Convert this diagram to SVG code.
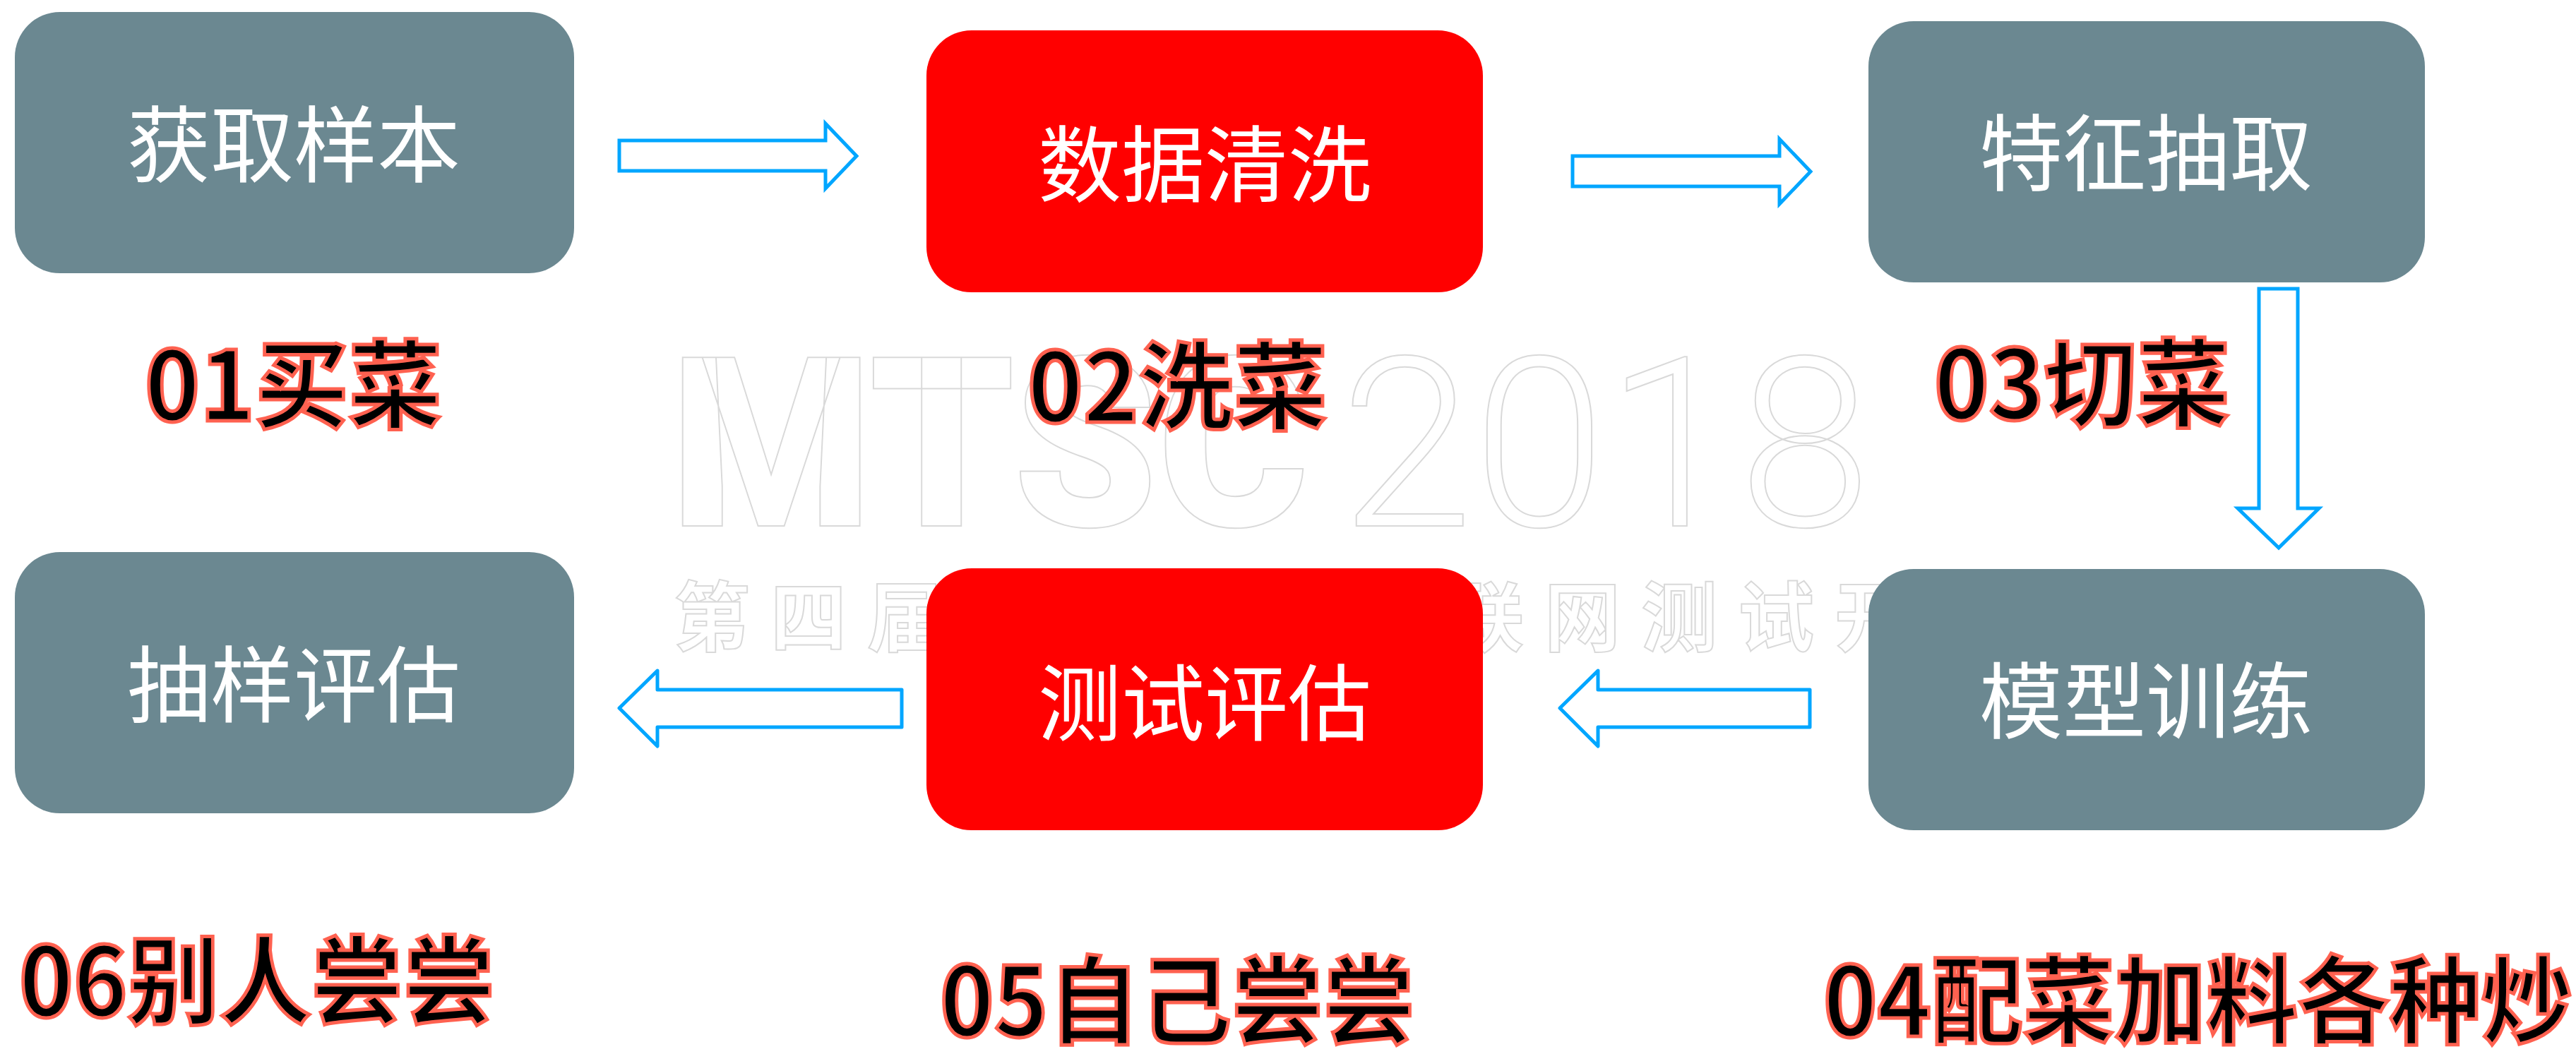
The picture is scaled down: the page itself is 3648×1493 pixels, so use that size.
<svg xmlns="http://www.w3.org/2000/svg" width="3648" height="1493" viewBox="0 0 3648 1493">
<style>
.bg{fill:#ffffff}
.wm{fill:#ffffff;stroke:#d9d9d9;stroke-width:2}
.wm1{font-family:Roboto,"Liberation Sans",sans-serif;font-weight:900;font-size:336px}
.wm2{font-family:Roboto,"Liberation Sans",sans-serif;font-weight:300;font-size:336px}
.wm3{font-family:"Noto Sans CJK SC",sans-serif;font-weight:700;font-size:108px;letter-spacing:29px}
.gray{fill:#6B8891}
.red{fill:#FF0000}
.nt{fill:#ffffff;font-family:"Noto Sans CJK SC","Noto Sans",sans-serif;font-size:118px;text-anchor:middle}
.arr{fill:#ffffff;stroke:#00A6FF;stroke-width:5;stroke-linejoin:miter}
.arr2{fill:#ffffff;stroke:#00A6FF;stroke-width:5;stroke-linejoin:round}
.lb{fill:#000000;stroke:#FF6150;stroke-width:5;font-family:"Noto Sans CJK SC","Noto Sans",sans-serif;font-weight:700;font-size:136px}
</style>
<rect class="bg" x="0" y="0" width="3648" height="1493"/>
<g id="watermark">
  <text class="wm wm1" x="949" y="745" textLength="905" lengthAdjust="spacingAndGlyphs">MTSC</text>
  <text class="wm wm2" x="1898" y="745" textLength="752" lengthAdjust="spacingAndGlyphs">2018</text>
  <text class="wm wm3" x="954" y="914">第四届中国移动互联网测试开发大会</text>
</g>
<g id="connectors">
  <polygon class="arr" points="877,199 1169,199 1169,175 1213,221 1169,267 1169,242 877,242"/>
  <polygon class="arr" points="2227,221 2520,221 2520,197 2564,243 2520,289 2520,264 2227,264"/>
  <polygon class="arr" points="3199,409 3254,409 3254,720 3284,720 3227,776 3169,720 3199,720"/>
  <polygon class="arr2" points="2563,977 2263,977 2263,950 2209,1003 2263,1057 2263,1030 2563,1030"/>
  <polygon class="arr2" points="1277,977 931,977 931,950 877,1003 931,1057 931,1030 1277,1030"/>
</g>
<g id="node1">
  <rect class="gray" x="21" y="17" width="792" height="370" rx="64" ry="64"/>
  <text class="nt" x="416" y="249">获取样本</text>
</g>
<g id="node2">
  <rect class="red" x="1312" y="43" width="788" height="371" rx="64" ry="64"/>
  <text class="nt" x="1706" y="277">数据清洗</text>
</g>
<g id="node3">
  <rect class="gray" x="2646" y="30" width="788" height="370" rx="64" ry="64"/>
  <text class="nt" x="3039" y="261">特征抽取</text>
</g>
<g id="node4">
  <rect class="gray" x="2646" y="806" width="788" height="370" rx="64" ry="64"/>
  <text class="nt" x="3039" y="1037">模型训练</text>
</g>
<g id="node5">
  <rect class="red" x="1312" y="805" width="788" height="371" rx="64" ry="64"/>
  <text class="nt" x="1706" y="1040">测试评估</text>
</g>
<g id="node6">
  <rect class="gray" x="21" y="782" width="792" height="370" rx="64" ry="64"/>
  <text class="nt" x="416" y="1014">抽样评估</text>
</g>
<g id="labels">
  <text class="lb" x="205" y="596" textLength="421" lengthAdjust="spacingAndGlyphs">01买菜</text>
  <text class="lb" x="1455" y="598" textLength="425" lengthAdjust="spacingAndGlyphs">02洗菜</text>
  <text class="lb" x="2739" y="594" textLength="419" lengthAdjust="spacingAndGlyphs">03切菜</text>
  <text class="lb" x="2582" y="1468" textLength="1061" lengthAdjust="spacingAndGlyphs">04配菜加料各种炒</text>
  <text class="lb" x="1331" y="1468" textLength="673" lengthAdjust="spacingAndGlyphs">05自己尝尝</text>
  <text class="lb" x="27" y="1440" textLength="674" lengthAdjust="spacingAndGlyphs">06别人尝尝</text>
</g>
</svg>
